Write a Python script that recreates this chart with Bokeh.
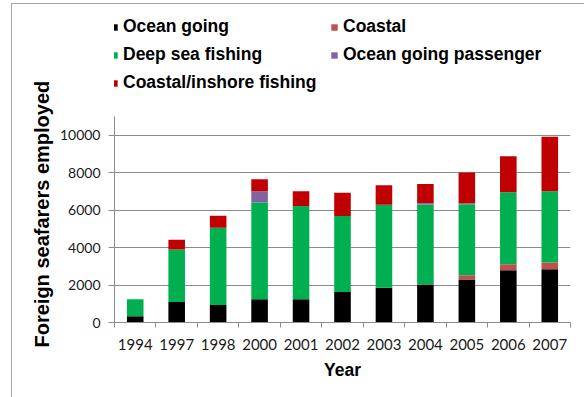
from bokeh.plotting import figure
from bokeh.models import (Range1d, FixedTicker, Legend, LegendItem, Title)
from bokeh.embed import file_html
from bokeh.resources import INLINE

# Foreign seafarers employed, by ship category and year
years = ["1994", "1997", "1998", "2000", "2001", "2002",
         "2003", "2004", "2005", "2006", "2007"]
ocean_going = [340, 1100, 940, 1240, 1240, 1630, 1850, 2030, 2290, 2790, 2840]
coastal = [0, 0, 0, 0, 0, 0, 0, 0, 230, 320, 360]
deep_sea_fishing = [900, 2790, 4120, 5160, 4980, 4060, 4440, 4270, 3790, 3840, 3800]
ocean_going_passenger = [0, 0, 0, 600, 0, 0, 0, 60, 60, 0, 0]
coastal_inshore_fishing = [0, 530, 640, 640, 780, 1240, 1030, 1030, 1630, 1930, 2910]

series = ["ocean_going", "coastal", "deep_sea_fishing",
          "ocean_going_passenger", "coastal_inshore_fishing"]
names = ["Ocean going", "Coastal", "Deep sea fishing",
         "Ocean going passenger", "Coastal/inshore fishing"]
colors = ["#000000", "#c0504d", "#00b050", "#8064a2", "#c00000"]

y_ticks = [0, 2000, 4000, 6000, 8000, 10000]
y_axis_max = 11000

x = [i + 0.5 for i in range(len(years))]
data = dict(x=x, ocean_going=ocean_going, coastal=coastal,
            deep_sea_fishing=deep_sea_fishing,
            ocean_going_passenger=ocean_going_passenger,
            coastal_inshore_fishing=coastal_inshore_fishing)

GRAY = "#8c8c8c"

# The frame reaches up to the legend; the value axis itself stops at y_axis_max.
p = figure(width=572, height=393, output_backend="svg", toolbar_location=None,
           x_range=Range1d(0, len(years)), y_range=Range1d(0, 16760),
           min_border_left=102, min_border_right=14,
           min_border_top=4, min_border_bottom=75)
p.margin = (4, 0, 0, 12)
p.styles = {"outline": "1px solid #a6a6a6"}
p.outline_line_color = None
p.background_fill_color = None
p.border_fill_color = None

renderers = p.vbar_stack(series, x="x", width=0.4, color=colors,
                         line_color=None, source=data)

# gridlines
p.xgrid.visible = False
p.ygrid.grid_line_color = GRAY
p.ygrid.grid_line_width = 1
p.ygrid.ticker = FixedTicker(ticks=y_ticks)

# y axis
ya = p.yaxis[0]
ya.ticker = FixedTicker(ticks=y_ticks)
ya.bounds = (0, y_axis_max)
ya.axis_line_color = GRAY
ya.major_tick_line_color = GRAY
ya.major_tick_out = 6
ya.major_tick_in = 0
ya.minor_tick_line_color = None
ya.major_label_text_font = "Lato"
ya.major_label_text_font_size = "14px"
ya.major_label_text_color = "#1a1a1a"
ya.major_label_standoff = 8

# y axis title, placed along the bounded value axis rather than the whole frame
p.add_layout(Title(text="Foreign seafarers employed", align="left",
                   offset=-25, standoff=8,
                   text_font="Liberation Sans", text_font_style="bold",
                   text_font_size="20px", text_color="#000000"), "left")

# x axis: labels at bar centres, tick marks between categories
xa = p.xaxis[0]
xa.ticker = FixedTicker(ticks=x, minor_ticks=list(range(len(years) + 1)))
xa.major_label_overrides = {xi: y for xi, y in zip(x, years)}
xa.axis_line_color = GRAY
xa.major_tick_line_color = None
xa.major_tick_out = 5
xa.major_tick_in = 0
xa.minor_tick_line_color = GRAY
xa.minor_tick_out = 5
xa.minor_tick_in = 0
xa.major_label_text_font = "Lato"
xa.major_label_text_font_size = "15px"
xa.major_label_text_color = "#1a1a1a"
xa.major_label_standoff = 11
xa.axis_label = "Year"
xa.axis_label_text_font = "Liberation Sans"
xa.axis_label_text_font_style = "bold"
xa.axis_label_text_font_size = "17.5px"
xa.axis_label_text_color = "#000000"
xa.axis_label_standoff = 7

legend = Legend(
    items=[LegendItem(label=n, renderers=[r]) for n, r in zip(names, renderers)],
    location=(-4, 229), orientation="horizontal", ncols=2,
    glyph_width=8, glyph_height=8, label_standoff=5, label_height=20,
    label_width=200, spacing=7, padding=0, margin=0,
    label_text_font="Liberation Sans", label_text_font_style="bold",
    label_text_font_size="17.5px", label_text_color="#000000",
    border_line_color=None, background_fill_alpha=0)
p.add_layout(legend, "center")

open("out.html", "w").write(file_html(p, INLINE))
